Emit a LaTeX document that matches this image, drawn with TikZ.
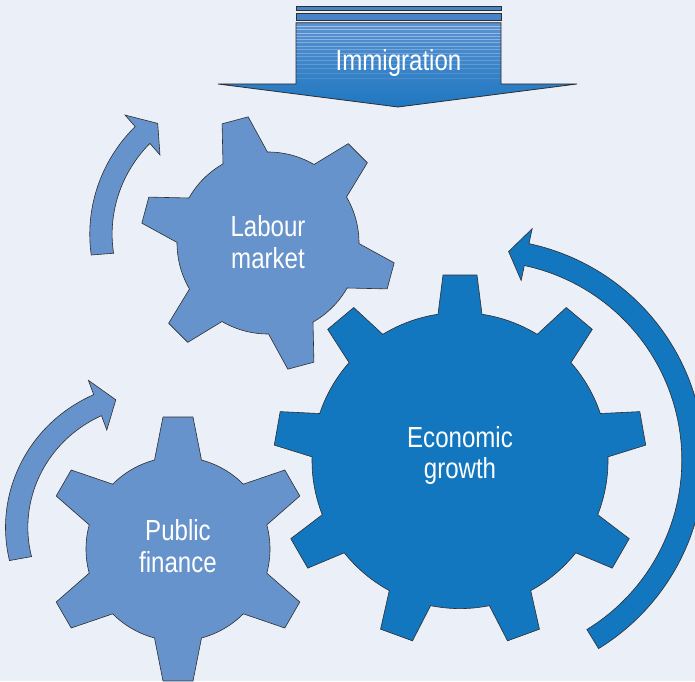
\documentclass[tikz,border=0pt]{standalone}
\usepackage{fontspec}
\setmainfont[FakeStretch=0.83]{Liberation Sans}
\definecolor{bgc}{HTML}{EBEFF8}
\definecolor{lightg}{HTML}{6693CB}
\definecolor{darkg}{HTML}{1277BE}
\definecolor{edge}{HTML}{2E2E2E}
\definecolor{barc}{HTML}{4683C8}
\definecolor{immtop}{HTML}{5A92D2}
\definecolor{immbot}{HTML}{1F77C0}
\newcommand\gearshape[9]{%
 \pgfmathsetmacro\gdb{asin(#8/#6)}%
 \pgfmathsetmacro\gdt{atan(#9/#7)}%
 \pgfmathsetmacro\grt{#7/cos(\gdt)}%
 \pgfmathsetmacro\gstep{360/#4}%
 \pgfmathtruncatemacro\gnm{#4-1}%
 \path[#1,shift={(#2,#3)}] ({#5-\gdb}:#6pt)
  \foreach \k in {0,...,\gnm}{
    -- ({#5+\k*\gstep-\gdt}:\grt pt) -- ({#5+\k*\gstep+\gdt}:\grt pt) -- ({#5+\k*\gstep+\gdb}:#6pt)
    arc[start angle={#5+\k*\gstep+\gdb}, end angle={#5+(\k+1)*\gstep-\gdb}, radius=#6pt]
  } -- cycle;
}
\def\ah{11.2}
\def\ahb{26.5}
% #1 style, #2 cx, #3 cy, #4 tail angle, #5 head angle, #6 mid radius at tail, #7 mid radius at head, #8 tip angle
\newcommand\curvarrow[8]{%
 \path[#1,shift={(#2,#3)}]
   plot[domain=#4:#5, samples=80, smooth] ({((#6)+((#7)-(#6))*(\x-(#4))/((#5)-(#4))+\ah)*cos(\x)}, {((#6)+((#7)-(#6))*(\x-(#4))/((#5)-(#4))+\ah)*sin(\x)})
   -- ({((#7)+\ahb)*cos(#5)},{((#7)+\ahb)*sin(#5)})
   -- ({(#7)*cos(#8)},{(#7)*sin(#8)})
   -- ({((#7)-\ahb)*cos(#5)},{((#7)-\ahb)*sin(#5)})
   -- plot[domain=#5:#4, samples=80, smooth] ({((#6)+((#7)-(#6))*(\x-(#4))/((#5)-(#4))-\ah)*cos(\x)}, {((#6)+((#7)-(#6))*(\x-(#4))/((#5)-(#4))-\ah)*sin(\x)})
   -- cycle;
}
\begin{document}
\begin{tikzpicture}[x=1pt,y=1pt,
  lightpart/.style={fill=lightg, draw=edge, line width=0.6pt, line join=miter},
  darkpart/.style={fill=darkg, draw=edge, line width=0.6pt, line join=miter},
  lbl/.style={text=white, inner sep=0pt, font=\fontsize{29}{31.8}\selectfont},
  barbox/.style={fill=barc, draw=edge, line width=0.8pt}]
\useasboundingbox (0,0) rectangle (695,681);
\fill[bgc] (0,0) rectangle (695,681);
\clip (0,0) rectangle (695,681);

% Labour market
\curvarrow{lightpart}{237.5}{437.5}{184.5}{131.2}{135.5}{144.2}{123.6}
\gearshape{lightpart}{268}{438}{6}{105}{91}{127}{23}{13.5}
\node[lbl, align=center] (labour) at (268,439) {Labour\\market};

% Economic growth
\curvarrow{darkpart}{483}{221}{-58.5}{78}{210}{210}{83}
\gearshape{darkpart}{460}{220.4}{9}{90}{148}{185.6}{22}{17}
\node[lbl, align=center] (econ) at (460,225.5) {Economic\\growth};

% Public finance
\curvarrow{lightpart}{146}{145}{190.2}{110.3}{127.5}{139.5}{102.5}
\gearshape{lightpart}{178}{132}{6}{90}{92}{132}{23.5}{15}
\node[lbl, align=center] (public) at (178,134.5) {Public\\finance};

% Immigration arrow
\path[barbox] (296,670.3) rectangle (501,674.3);
\path[barbox] (296,660.3) rectangle (501,667.7);
\path[top color=immtop, bottom color=immbot]
  (296,658.3) -- (501,658.3) -- (501,597) -- (577,597) -- (398,574) -- (218,597) -- (296,597) -- cycle;
\begin{scope}
\clip (296,658.3) rectangle (501,597);
\foreach \yy/\op in {655/0.45,651.5/0.4,648/0.4,645/0.35,642/0.35,638.5/0.3,635/0.3,631.5/0.25,628/0.25,624.5/0.22,621/0.2,617/0.18,613/0.15,608/0.12,603/0.1}
  \draw[white, opacity=\op, line width=0.8pt] (296,\yy) -- (501,\yy);
\end{scope}
\path[draw=edge, line width=0.8pt, line join=miter]
  (296,658.3) -- (501,658.3) -- (501,597) -- (577,597) -- (398,574) -- (218,597) -- (296,597) -- cycle;
\node[lbl, anchor=base] (immig) at (398.5,610.3) {Immigration};
\end{tikzpicture}
\end{document}
